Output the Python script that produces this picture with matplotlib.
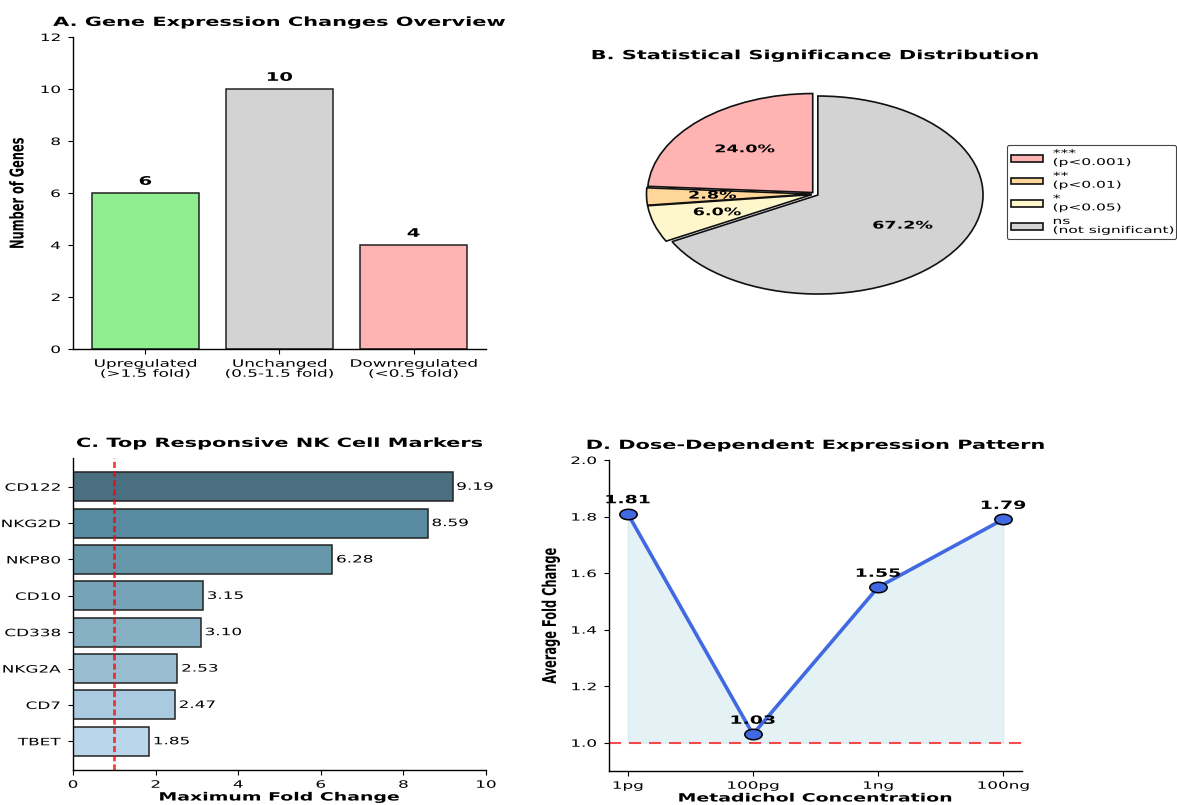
import numpy as np
import matplotlib
matplotlib.use("Agg")
import matplotlib.pyplot as plt
from matplotlib.patheffects import AbstractPathEffect
from matplotlib.transforms import Affine2D
from matplotlib.path import Path
from matplotlib.text import Text
from matplotlib.ticker import MultipleLocator

# ---- data -------------------------------------------------------------
change_categories = ["Upregulated\n(>1.5 fold)", "Unchanged\n(0.5-1.5 fold)",
                     "Downregulated\n(<0.5 fold)"]
change_counts = [6, 10, 4]

sig_labels = ["***\n(p<0.001)", "**\n(p<0.01)", "*\n(p<0.05)",
              "ns\n(not significant)"]
sig_shares = [24.0, 2.8, 6.0, 67.2]

nk_markers = ["CD122", "NKG2D", "NKP80", "CD10", "CD338", "NKG2A", "CD7", "TBET"]
max_fold = [9.19, 8.59, 6.28, 3.15, 3.10, 2.53, 2.47, 1.85]

doses = ["1pg", "100pg", "1ng", "100ng"]
avg_fold = [1.81, 1.03, 1.55, 1.79]

# ---- styling ----------------------------------------------------------
change_colors = ["#90EE90", "#D3D3D3", "#FFB3B3"]
sig_colors = ["#FFB3B3", "#FFD699", "#FFF7CC", "#D3D3D3"]
marker_colors = ["#4A6F80", "#588BA0", "#6697AA", "#76A3B7",
                 "#87B0C4", "#98BDD1", "#A9CAE0", "#BAD6EA"]

TITLE_FS = 9.05
LABEL_FS = 8.2
TICK_FS = 7.3
SX = 1.66  # horizontal glyph stretch

plt.rcParams.update({
    "font.family": "DejaVu Sans",
    "xtick.labelsize": TICK_FS,
    "ytick.labelsize": TICK_FS,
    "ytick.major.pad": 5.5,
    "axes.linewidth": 1.0,
})


class WideText(AbstractPathEffect):
    """Draw text glyphs widened horizontally about an anchor edge."""

    def __init__(self, sx, anchor="center"):
        super().__init__()
        self._sx = sx
        self._anchor = anchor

    def draw_path(self, renderer, gc, tpath, affine, rgbFace=None):
        ext = tpath.transformed(affine).get_extents()
        if not np.all(np.isfinite([ext.x0, ext.x1])):
            renderer.draw_path(gc, tpath, affine, rgbFace)
            return
        if self._anchor == "left":
            x0 = ext.x0
        elif self._anchor == "right":
            x0 = ext.x1
        else:
            x0 = 0.5 * (ext.x0 + ext.x1)
        widen = Affine2D().translate(-x0, 0).scale(self._sx, 1.0).translate(x0, 0)
        renderer.draw_path(gc, tpath, affine + widen, rgbFace)


def clean_axes(ax):
    ax.spines["top"].set_visible(False)
    ax.spines["right"].set_visible(False)


W, H = 1177, 805
fig = plt.figure(figsize=(W / 100, H / 100), dpi=100)
fig.patch.set_facecolor("white")

# ---- A: gene expression changes --------------------------------------
axA = fig.add_axes([73 / W, 1 - 349 / H, 413 / W, 312 / H])
xA = np.arange(len(change_categories))
axA.bar(xA, change_counts, width=0.8, color=change_colors,
        edgecolor="#222222", linewidth=1.1)
for xi, v in zip(xA, change_counts):
    axA.text(xi, v + 0.2, f"{v}", ha="center", va="bottom",
             fontsize=8.5, fontweight="bold")
axA.set_xticks(xA)
axA.set_xticklabels(change_categories, linespacing=1.0)
axA.set_ylim(0, max(change_counts) * 1.2)
axA.set_ylabel("Number of Genes", fontsize=LABEL_FS, fontweight="bold",
               labelpad=16)
axA.set_title("A. Gene Expression Changes Overview", fontsize=TITLE_FS,
              fontweight="bold", pad=8)
clean_axes(axA)

# ---- B: significance distribution ------------------------------------
ry = 99
axB = fig.add_axes([(815 - 206.5) / W, 1 - (194 + 2.5 * ry / 2) / H,
                    413 / W, 2.5 * ry / H])
wedges, _, autotexts = axB.pie(
    sig_shares, colors=sig_colors, autopct="%1.1f%%", startangle=90,
    explode=[0.02] * len(sig_shares),
    wedgeprops=dict(edgecolor="#111111", linewidth=1.2),
    textprops=dict(fontsize=7.6, fontweight="bold"))
axB.set_aspect("auto")
axB.set_xlim(-1.25, 1.25)
axB.set_ylim(-1.25, 1.25)
axB.set_title("B. Statistical Significance Distribution", fontsize=TITLE_FS,
              fontweight="bold", pad=8)
leg = axB.legend(wedges, sig_labels, loc="center left",
                 bbox_to_anchor=(1007 / W, 1 - 192 / H - 0.05, 169 / W, 0.1),
                 bbox_transform=fig.transFigure, mode="expand",
                 borderaxespad=0, fontsize=6.7, handlelength=3.5,
                 handleheight=0.75, handletextpad=1.05, labelspacing=0.5,
                 framealpha=1)
leg.get_frame().set_edgecolor("#444444")
leg.get_frame().set_linewidth(0.8)
for t in leg.get_texts():
    t.set_linespacing(1.0)

# ---- C: top responsive markers ---------------------------------------
axC = fig.add_axes([73 / W, 1 - 770 / H, 413 / W, 312 / H])
yC = np.arange(len(nk_markers))
axC.barh(yC, max_fold, height=0.8, color=marker_colors,
         edgecolor="#222222", linewidth=1.1)
for yi, v in zip(yC, max_fold):
    axC.text(v + 0.1, yi, f"{v:.2f}", ha="left", va="center", fontsize=TICK_FS)
axC.axvline(1.0, color="red", linestyle=(0, (2.2, 1.1)), linewidth=2.0, alpha=0.75)
axC.set_yticks(yC)
axC.set_yticklabels(nk_markers)
axC.invert_yaxis()
axC.set_xlim(0, 10)
axC.set_xlabel("Maximum Fold Change", fontsize=LABEL_FS, fontweight="bold",
               labelpad=2)
axC.set_title("C. Top Responsive NK Cell Markers", fontsize=TITLE_FS,
              fontweight="bold", pad=8)
clean_axes(axC)

# ---- D: dose dependence ----------------------------------------------
axD = fig.add_axes([609 / W, 1 - 771 / H, 413 / W, 311 / H])
xD = np.arange(len(doses))
axD.fill_between(xD, avg_fold, 1.0, color="lightblue", alpha=0.33, linewidth=1)
axD.axhline(1.0, color="red", linestyle=(0, (5.8, 3.8)), linewidth=1.5, alpha=0.7)
ellipse = Path.unit_circle().transformed(Affine2D().scale(SX, 1.0))
axD.plot(xD, avg_fold, color="#4169E1", linewidth=2.6, marker=ellipse,
         markersize=12.5, markerfacecolor="#4169E1", markeredgecolor="black",
         markeredgewidth=1.1)
for xi, v in zip(xD, avg_fold):
    axD.text(xi, v + 0.03, f"{v:.2f}", ha="center", va="bottom",
             fontsize=LABEL_FS, fontweight="bold")
axD.set_xticks(xD)
axD.set_xticklabels(doses)
axD.set_ylim(0.9, 2.0)
axD.yaxis.set_major_locator(MultipleLocator(0.2))
axD.set_xlabel("Metadichol Concentration", fontsize=LABEL_FS,
               fontweight="bold", labelpad=2)
axD.set_ylabel("Average Fold Change", fontsize=LABEL_FS, fontweight="bold",
               labelpad=15)
axD.set_title("D. Dose-Dependent Expression Pattern", fontsize=TITLE_FS,
              fontweight="bold", pad=8)
clean_axes(axD)

# ---- widen every piece of text ---------------------------------------
fig.canvas.draw()
for t in fig.findobj(Text):
    if not t.get_visible() or not t.get_text():
        continue
    if t.get_rotation() % 180 == 90:
        anchor = "right"
    else:
        anchor = {"left": "left", "right": "right"}.get(
            t.get_horizontalalignment(), "center")
    t.set_path_effects([WideText(SX, anchor)])

fig.savefig("out.png", dpi=100, facecolor="white")
